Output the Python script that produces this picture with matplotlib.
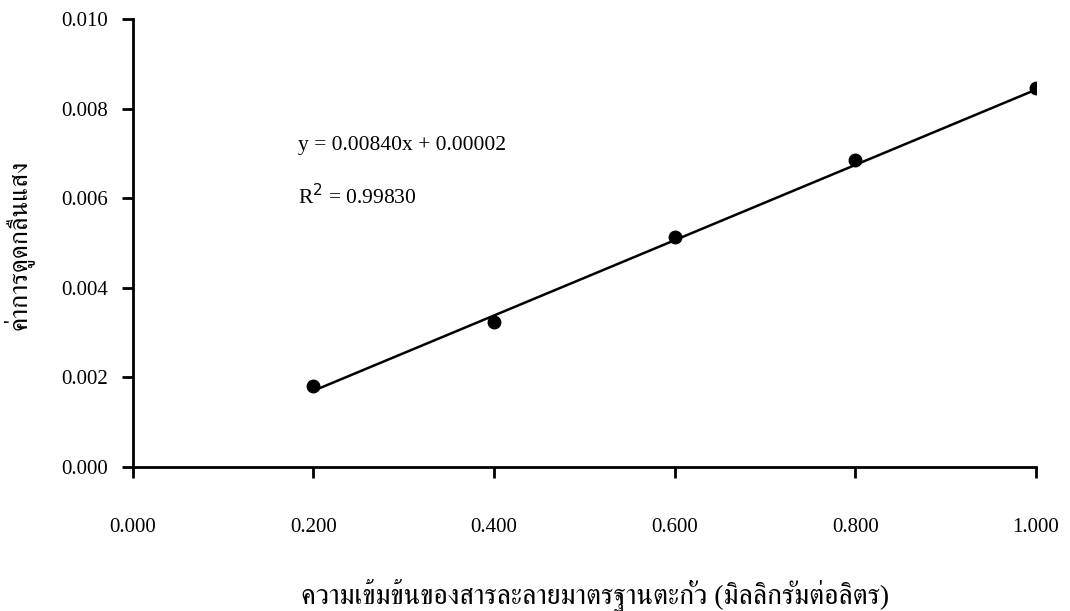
import matplotlib
matplotlib.use('Agg')
import matplotlib.pyplot as plt
import numpy as np

# Data
concentration = [0.2, 0.4, 0.6, 0.8, 1.0]
absorbance = [0.00181, 0.00324, 0.00513, 0.00685, 0.00846]
slope = 0.00840
intercept = 0.00002
r_squared = 0.99830
x_ticks = [0.0, 0.2, 0.4, 0.6, 0.8, 1.0]
y_ticks = [0.000, 0.002, 0.004, 0.006, 0.008, 0.010]
x_label = 'ความเข้มข้นของสารละลายมาตรฐานตะกั่ว (มิลลิกรัมต่อลิตร)'
y_label = 'ค่าการดูดกลืนแสง'

plt.rcParams['font.family'] = ['Liberation Serif', 'FreeSerif', 'DejaVu Sans']

fig = plt.figure(figsize=(10.7, 6.11), dpi=100)
ax = fig.add_axes([0.124, 0.2357, 0.844, 0.7333])

xs = np.array([concentration[0], concentration[-1]])
ax.plot(xs, slope * xs + intercept, color='black', lw=1.8, zorder=2)
ax.plot(concentration, absorbance, 'o', color='black', ms=9, zorder=3)

ax.set_xlim(0, 1.0)
ax.set_ylim(0, 0.010)
ax.set_xticks(x_ticks)
ax.set_yticks(y_ticks)
ax.set_xticklabels(['%.3f' % v for v in x_ticks])
ax.set_yticklabels(['%.3f' % v for v in y_ticks])
ax.tick_params(axis='x', direction='out', length=8, width=2, pad=29, labelsize=15)
ax.tick_params(axis='y', direction='out', length=8, width=2, pad=10, labelsize=15)
for s in ['top', 'right']:
    ax.spines[s].set_visible(False)
for s in ['left', 'bottom']:
    ax.spines[s].set_linewidth(2)

ax.text(0.183, 0.00717, 'y = 0.00840x + 0.00002', fontsize=15.5, ha='left', va='center')
ax.text(0.183, 0.00603, 'R$^{2}$ = %.5f' % r_squared, fontsize=15.5, ha='left', va='center')

fig.text(0.556, 0.025, x_label, fontsize=20, ha='center', va='center')
fig.text(0.017, 0.599, y_label, fontsize=19, ha='center', va='center', rotation=90)

fig.savefig('out.png', dpi=100)
